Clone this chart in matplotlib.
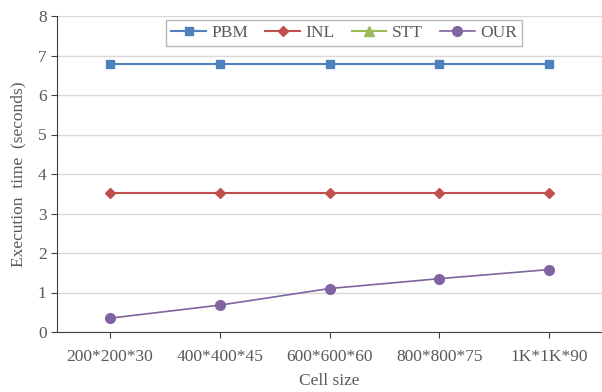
import numpy as np
import matplotlib
matplotlib.use("Agg")
import matplotlib.pyplot as plt

plt.rcParams['font.family'] = ['Liberation Serif', 'DejaVu Serif']

cells = ["200*200*30", "400*400*45", "600*600*60", "800*800*75", "1K*1K*90"]
pbm = [6.78, 6.78, 6.78, 6.78, 6.78]
inl = [3.52, 3.52, 3.52, 3.52, 3.52]
stt = [np.nan, np.nan, np.nan, np.nan, np.nan]
our = [0.35, 0.68, 1.10, 1.35, 1.58]

fig = plt.figure(figsize=(6.02, 3.92), dpi=100)
ax = fig.add_axes([57 / 602, 1 - 332 / 392, 545 / 602, 316 / 392])

x = np.arange(len(cells))
ax.plot(x, pbm, '-s', color='#4f81bd', ms=6, lw=1.5, label='PBM')
ax.plot(x, inl, '-D', color='#c0504d', ms=5.5, lw=1.5, label='INL')
ax.plot(x, stt, '-^', color='#9bbb59', ms=6.5, lw=1.5, label='STT')
ax.plot(x, our, '-o', color='#8064a2', ms=7, lw=1.2, label='OUR')

ax.set_xlim(-0.483, 4.483)
ax.set_ylim(0, 8)
ax.set_yticks(range(0, 9))
ax.set_xticks(x)
ax.set_xticklabels(cells)
ax.grid(axis='y', color='#d9d9d9', lw=1)
ax.set_axisbelow(True)
for s in ['top', 'right']:
    ax.spines[s].set_visible(False)
for s in ['left', 'bottom']:
    ax.spines[s].set_color('#404040')
ax.tick_params(colors='#404040', labelcolor='#595959', labelsize=12.5, length=4)
ax.tick_params(axis='x', pad=8)
ax.set_xlabel('Cell size', fontsize=12.5, color='#595959', labelpad=6)
ax.set_ylabel('Execution  time  (seconds)', fontsize=12.5, color='#595959', labelpad=8)

leg = fig.legend(loc='center', bbox_to_anchor=(344 / 602, 1 - 33 / 392), ncol=4,
                 fontsize=12.5, frameon=True, fancybox=False, edgecolor='#a6a6a6',
                 handlelength=2.0, columnspacing=1.0, handletextpad=0.3,
                 borderpad=0.3)
for t in leg.get_texts():
    t.set_color('#595959')

fig.savefig('out.png', dpi=100)
